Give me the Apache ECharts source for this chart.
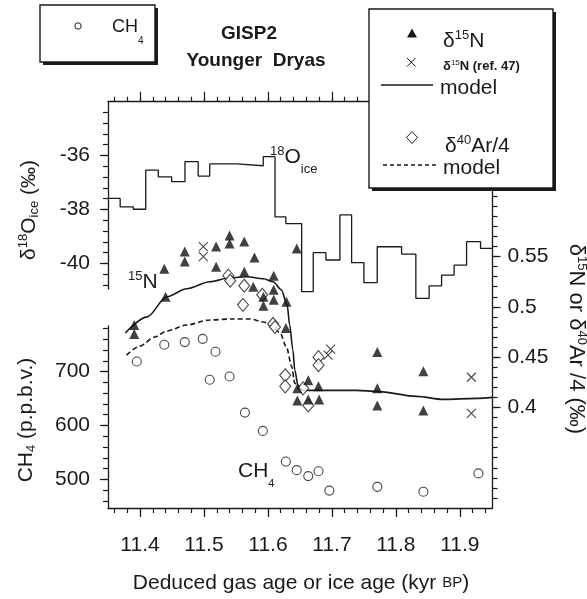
<!DOCTYPE html>
<html><head><meta charset="utf-8">
<script src="https://cdn.jsdelivr.net/npm/echarts@6/dist/echarts.min.js"></script>
<style>html,body{margin:0;padding:0;background:#fff}#c{width:587px;height:599px}</style>
</head><body><div id="c"></div>
<script>
// ---------- data ----------
const ageMin = 11.35, ageMax = 11.951;
// δ18O(ice) step record: interval boundaries (kyr BP) and value in each interval (‰)
const d18oBounds = [11.35, 11.369, 11.3895, 11.409, 11.4286, 11.4495, 11.4703, 11.491, 11.509, 11.551, 11.5927, 11.611, 11.628, 11.6527, 11.6708, 11.6906, 11.7125, 11.7308, 11.75, 11.7708, 11.8089, 11.8312, 11.852, 11.8714, 11.891, 11.9105, 11.9323, 11.951];
const d18oValues = [-37.59, -37.90, -37.99, -36.54, -36.79, -36.97, -36.23, -36.76, -36.31, -36.38, -36.04, -38.27, -38.52, -41.04, -39.60, -39.87, -38.20, -39.97, -40.71, -39.38, -39.65, -41.29, -40.83, -40.43, -40.06, -39.19, -39.44];
// δ15N (triangles)
const n15Age = [11.391, 11.391, 11.440, 11.438, 11.470, 11.470, 11.519, 11.519, 11.540, 11.540, 11.563, 11.563, 11.579, 11.577, 11.593, 11.593, 11.609, 11.609, 11.609, 11.629, 11.645, 11.628, 11.646, 11.646, 11.663, 11.663, 11.679, 11.680, 11.771, 11.771, 11.771, 11.843, 11.843];
const n15Val = [0.482, 0.473, 0.510, 0.538, 0.555, 0.545, 0.560, 0.540, 0.571, 0.563, 0.565, 0.535, 0.549, 0.520, 0.510, 0.501, 0.531, 0.517, 0.507, 0.505, 0.558, 0.479, 0.419, 0.407, 0.427, 0.408, 0.421, 0.408, 0.455, 0.419, 0.402, 0.436, 0.397];
// δ15N (ref. 47) (crosses)
const n15RefAge = [11.499, 11.499, 11.698, 11.694, 11.918, 11.918];
const n15RefVal = [0.560, 0.550, 0.458, 0.452, 0.430, 0.394];
// δ40Ar/4 (diamonds)
const ar40Age = [11.538, 11.541, 11.563, 11.561, 11.591, 11.608, 11.611, 11.627, 11.627, 11.655, 11.663, 11.679, 11.679];
const ar40Val = [0.531, 0.526, 0.521, 0.502, 0.512, 0.483, 0.480, 0.432, 0.421, 0.419, 0.402, 0.450, 0.442];
// δ15N model (solid)
const n15ModelAge = [11.377, 11.411, 11.442, 11.473, 11.509, 11.541, 11.567, 11.593, 11.608, 11.621, 11.630, 11.634, 11.639, 11.642, 11.647, 11.655, 11.666, 11.739, 11.771, 11.832, 11.874, 11.926, 11.951];
const n15ModelVal = [0.474, 0.490, 0.510, 0.518, 0.525, 0.529, 0.530, 0.528, 0.525, 0.517, 0.502, 0.482, 0.457, 0.437, 0.422, 0.417, 0.417, 0.417, 0.416, 0.411, 0.408, 0.409, 0.410];
// δ40Ar/4 model (dashed)
const arModelAge = [11.379, 11.400, 11.423, 11.442, 11.473, 11.509, 11.546, 11.572, 11.593, 11.608, 11.619, 11.629, 11.637, 11.642, 11.648];
const arModelVal = [0.452, 0.461, 0.470, 0.476, 0.482, 0.487, 0.488, 0.488, 0.485, 0.480, 0.474, 0.460, 0.441, 0.424, 0.418];
// CH4 (open circles), p.p.b.v.
const ch4Age = [11.395, 11.438, 11.470, 11.498, 11.518, 11.509, 11.540, 11.564, 11.592, 11.628, 11.645, 11.663, 11.679, 11.696, 11.771, 11.843, 11.929];
const ch4Val = [719, 750, 755, 761, 737, 685, 691, 624, 590, 533, 517, 506, 515, 479, 486, 477, 511];
// tick labels
const xMajor = [11.4, 11.5, 11.6, 11.7, 11.8, 11.9];
const d18Major = [-40, -38, -36];
const ch4Major = [500, 600, 700];
const rightMajor = [0.4, 0.45, 0.5, 0.55];

// ---------- helpers ----------
function range(a, b, step) { const o = []; const n = Math.round((b - a) / step); for (let i = 0; i <= n; i++) o.push(+(a + i * step).toFixed(4)); return o; }
const xMinor = range(11.36, 11.94, 0.02);
const d18Minor = range(-40.8, -34.4, 0.4);
const ch4Minor = range(460, 780, 20);
const rightMinor = range(0.31, 0.70, 0.01);
const zip = (a, b) => a.map((v, i) => [v, b[i]]);
const stepData = [];
d18oValues.forEach((v, i) => { stepData.push([d18oBounds[i], v]); stepData.push([d18oBounds[i + 1], v]); });

const FONT = '"Liberation Sans", Arial, Helvetica, sans-serif';
const INK = '#1a1a1a';
const LBL = 21;

function mkX(grid, pos, ticks, len, line, labels) {
  return { type: 'value', gridIndex: grid, position: pos, min: ageMin, max: ageMax,
    axisLine: { show: line, onZero: false, lineStyle: { color: INK, width: 1.3 } },
    axisTick: { show: true, length: len, customValues: ticks, lineStyle: { color: INK, width: 1.2 } },
    axisLabel: labels ? { show: true, customValues: labels, margin: 27, color: INK, fontSize: LBL, fontFamily: FONT, formatter: v => (+v).toFixed(1) } : { show: false },
    splitLine: { show: false } };
}
function mkY(grid, pos, min, max, ticks, len, line, labels, margin) {
  return { type: 'value', gridIndex: grid, position: pos, min, max,
    axisLine: { show: line, onZero: false, lineStyle: { color: INK, width: 1.3 } },
    axisTick: { show: true, length: len, customValues: ticks, lineStyle: { color: INK, width: 1.2 } },
    axisLabel: labels ? { show: true, customValues: labels, margin, color: INK, fontSize: LBL, fontFamily: FONT, formatter: v => String(+(+v).toFixed(2)) } : { show: false },
    splitLine: { show: false } };
}

function rich(size) {
  return {
    sup: { fontSize: Math.round(size * 0.6), fontFamily: FONT, fill: INK, padding: [0, 0, Math.round(size * 0.5), 0] },
    sub: { fontSize: Math.round(size * 0.6), fontFamily: FONT, fill: INK, padding: [Math.round(size * 0.5), 0, 0, 0] },
    subIce: { fontSize: 13, fontFamily: FONT, fill: INK, padding: [24, 0, 0, 0] },
    subCH: { fontSize: 11, fontFamily: FONT, fill: INK, padding: [26, 0, 0, 0] },
    subCHs: { fontSize: 10, fontFamily: FONT, fill: INK, padding: [28, 0, 0, 0] },
    sc: { fontSize: Math.round(size * 0.72), fontFamily: FONT, fill: INK }
  };
}
function T(x, y, text, o) {
  o = o || {};
  const size = o.size || 20, al = o.align || 'left';
  return { type: 'text', z: 110, x, y, rotation: o.rot || 0,
    style: { text, fill: INK, fontSize: size, fontFamily: FONT, fontWeight: o.weight || 'normal',
      align: al, textAlign: al, verticalAlign: 'middle', textVerticalAlign: 'middle', rich: rich(size) } };
}

const graphics = [
  // CH4 legend box
  { type: 'rect', z: 100, shape: { x: 43, y: 8, width: 115, height: 57 }, style: { fill: INK } },
  { type: 'rect', z: 101, shape: { x: 40, y: 5, width: 115, height: 57 }, style: { fill: '#fff', stroke: INK, lineWidth: 1.4 } },
  { type: 'circle', z: 102, shape: { cx: 78, cy: 26, r: 3.2 }, style: { fill: '#fff', stroke: INK, lineWidth: 1 } },
  T(112, 27, 'CH{subCHs|4}', { size: 18 }),
  // title
  T(249, 34, 'GISP2', { size: 19, weight: 'bold', align: 'center' }),
  T(256, 61, 'Younger  Dryas', { size: 19, weight: 'bold', align: 'center' }),
  // main legend box
  { type: 'rect', z: 100, shape: { x: 372, y: 12, width: 184, height: 179 }, style: { fill: INK } },
  { type: 'rect', z: 101, shape: { x: 369, y: 9, width: 184, height: 179 }, style: { fill: '#fff', stroke: INK, lineWidth: 1.4 } },
  { type: 'polygon', z: 102, shape: { points: [[412, 28.5], [407, 37.5], [417, 37.5]] }, style: { fill: INK } },
  T(443, 41, 'δ{sup|15}N', { size: 21 }),
  { type: 'line', z: 102, shape: { x1: 407, y1: 58, x2: 415.5, y2: 66.5 }, style: { stroke: INK, lineWidth: 1 } },
  { type: 'line', z: 102, shape: { x1: 415.5, y1: 58, x2: 407, y2: 66.5 }, style: { stroke: INK, lineWidth: 1 } },
  T(443, 66.5, 'δ{sup|15}N (ref. 47)', { size: 13, weight: 'bold' }),
  { type: 'line', z: 102, shape: { x1: 381, y1: 85, x2: 433, y2: 85 }, style: { stroke: INK, lineWidth: 1.3 } },
  T(440, 88, 'model', { size: 21 }),
  { type: 'polygon', z: 102, shape: { points: [[412, 131.5], [417.5, 137.5], [412, 143.5], [406.5, 137.5]] }, style: { fill: '#fff', stroke: INK, lineWidth: 1 } },
  T(445, 146, 'δ{sup|40}Ar/4', { size: 21 }),
  { type: 'line', z: 102, shape: { x1: 383, y1: 165, x2: 437, y2: 165 }, style: { stroke: INK, lineWidth: 1.3, lineDash: [4, 3] } },
  T(443, 168, 'model', { size: 21 }),
  // in-plot annotations
  T(270, 157, '{sup|18}O{subIce|ice}', { size: 21 }),
  T(128, 282, '{sup|15}N', { size: 21 }),
  T(238, 471, 'CH{subCH|4}', { size: 21 }),
  // axis names
  T(29, 210, 'δ{sup|18}O{sub|ice} (‰)', { rot: Math.PI / 2, align: 'center', size: 21 }),
  T(26, 420, 'CH{sub|4} (p.p.b.v.)', { rot: Math.PI / 2, align: 'center', size: 21 }),
  T(576, 339, 'δ{sup|15}N or δ{sup|40}Ar /4 (‰)', { rot: -Math.PI / 2, align: 'center', size: 22 }),
  T(301, 583, 'Deduced gas age or ice age (kyr {sc|BP})', { align: 'center', size: 21 })
];

const chart = echarts.init(document.getElementById('c'), null, { renderer: 'canvas' });
chart.setOption({
  animation: false,
  backgroundColor: '#fff',
  grid: [
    { left: 108, right: 94.5, top: 101.7, bottom: 91, outerBoundsMode: 'none' },
    { left: 108, right: 94.5, top: 101.7, bottom: 310, outerBoundsMode: 'none' },
    { left: 108, right: 94.5, top: 326, bottom: 91, outerBoundsMode: 'none' }
  ],
  xAxis: [
    mkX(0, 'bottom', xMinor, 5, true, null),
    mkX(0, 'bottom', xMajor, 9, false, xMajor),
    mkX(0, 'top', xMinor, 5, true, null),
    mkX(0, 'top', xMajor, 10, false, null),
    { type: 'value', gridIndex: 1, min: ageMin, max: ageMax, show: false },
    { type: 'value', gridIndex: 2, min: ageMin, max: ageMax, show: false }
  ],
  yAxis: [
    mkY(0, 'right', 0.3, 0.704, rightMinor, 5, true, null, 0),
    mkY(0, 'right', 0.3, 0.704, rightMajor, 8, false, rightMajor, 15),
    mkY(1, 'left', -40.944, -34.007, d18Minor, 5, true, null, 0),
    mkY(1, 'left', -40.944, -34.007, d18Major, 8, false, d18Major, 18),
    mkY(2, 'left', 446.7, 784.9, ch4Minor, 5, true, null, 0),
    mkY(2, 'left', 446.7, 784.9, ch4Major, 8, false, ch4Major, 18)
  ],
  series: [
    { name: 'δ18O ice', type: 'line', xAxisIndex: 4, yAxisIndex: 2, data: stepData, symbol: 'none', clip: false, silent: true, z: 2,
      lineStyle: { color: INK, width: 1.3 } },
    { name: 'CH4', type: 'scatter', xAxisIndex: 5, yAxisIndex: 4, data: zip(ch4Age, ch4Val), symbol: 'circle', symbolSize: 9, silent: true, z: 3,
      itemStyle: { color: '#fff', borderColor: INK, borderWidth: 1.1 } },
    { name: 'Ar model', type: 'line', xAxisIndex: 0, yAxisIndex: 0, data: zip(arModelAge, arModelVal), symbol: 'none', smooth: 0.3, smoothMonotone: 'x', silent: true, z: 4,
      lineStyle: { color: INK, width: 1.6, type: [5, 3] } },
    { name: 'N model', type: 'line', xAxisIndex: 0, yAxisIndex: 0, data: zip(n15ModelAge, n15ModelVal), symbol: 'none', smooth: 0.3, smoothMonotone: 'x', silent: true, z: 4,
      lineStyle: { color: INK, width: 1.6 } },
    { name: 'δ40Ar/4', type: 'scatter', xAxisIndex: 0, yAxisIndex: 0, data: zip(ar40Age, ar40Val), symbol: 'diamond', symbolSize: [11, 13], silent: true, z: 5,
      itemStyle: { color: '#fff', borderColor: INK, borderWidth: 1.1 } },
    { name: 'δ15N', type: 'scatter', xAxisIndex: 0, yAxisIndex: 0, data: zip(n15Age, n15Val), symbol: 'triangle', symbolSize: 10, silent: true, z: 6,
      itemStyle: { color: '#111' } },
    { name: 'δ15N ref47', type: 'scatter', xAxisIndex: 0, yAxisIndex: 0, data: zip(n15RefAge, n15RefVal), symbol: 'path://M0,0L10,10M10,0L0,10', symbolSize: 9, silent: true, z: 7,
      itemStyle: { color: 'none', borderColor: INK, borderWidth: 1.1 } }
  ],
  graphic: graphics
});
</script>
</body></html>
